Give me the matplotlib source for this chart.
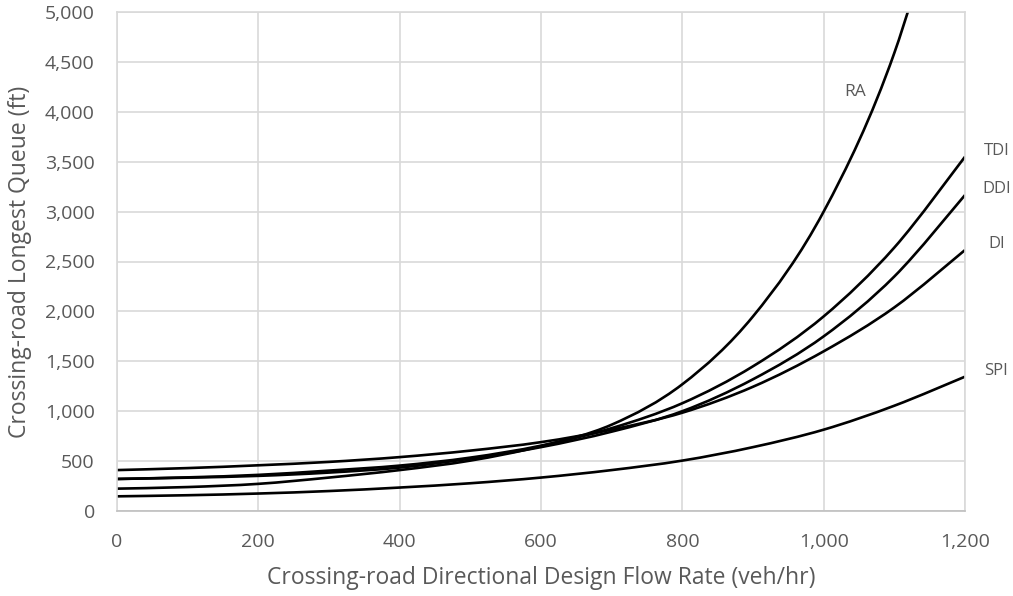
import numpy as np
import matplotlib
matplotlib.use("Agg")
import matplotlib.pyplot as plt
from matplotlib.path import Path
from matplotlib.patches import PathPatch
from matplotlib.ticker import FuncFormatter

# ---- data ----
flow = [0, 100, 200, 300, 400, 500, 600, 700, 800, 900, 1000, 1100, 1200]
ra  = [224, 240, 272, 335, 410, 505, 650, 865, 1270, 1950, 3000, 4590, 7000]
tdi = [321, 337, 362, 405, 455, 535, 655, 830, 1080, 1450, 1950, 2640, 3550]
ddi = [321, 334, 352, 385, 435, 525, 640, 795, 1000, 1320, 1750, 2350, 3166]
di  = [410, 430, 458, 492, 540, 605, 690, 815, 985, 1245, 1600, 2040, 2615]
spi = [147, 158, 175, 200, 235, 278, 335, 410, 505, 640, 815, 1055, 1346]

series_names = ["RA", "TDI", "DDI", "DI", "SPI"]
series_vals = [ra, tdi, ddi, di, spi]

x_ticks = [0, 200, 400, 600, 800, 1000, 1200]
y_ticks = [0, 500, 1000, 1500, 2000, 2500, 3000, 3500, 4000, 4500, 5000]

TXT = "#595959"
FONT = ["Open Sans", "DejaVu Sans"]
plt.rcParams["font.family"] = FONT


def smooth_path(x, y):
    """Excel-like smoothed line (Catmull-Rom as cubic Bezier) in data space."""
    pts = np.column_stack([x, y]).astype(float)
    n = len(pts)
    verts = [pts[0]]
    codes = [Path.MOVETO]
    for i in range(n - 1):
        p0 = pts[i - 1] if i > 0 else pts[i]
        p1 = pts[i]
        p2 = pts[i + 1]
        p3 = pts[i + 2] if i + 2 < n else pts[i + 1]
        c1 = p1 + (p2 - p0) / 6.0
        c2 = p2 - (p3 - p1) / 6.0
        verts += [c1, c2, p2]
        codes += [Path.CURVE4] * 3
    return Path(verts, codes)


fig = plt.figure(figsize=(10.13, 5.96), dpi=100)
ax = fig.add_axes([117 / 1013, 85 / 596, (965 - 117) / 1013, (511 - 12) / 596])

for name, vals in zip(series_names, series_vals):
    patch = PathPatch(smooth_path(flow, vals), facecolor="none",
                      edgecolor="black", lw=1.9, capstyle="butt")
    ax.add_patch(patch)
    if name != "RA":
        ax.annotate(name, xy=(flow[-1], vals[-1]), xytext=(22.5, 4),
                    textcoords="offset points", ha="center", va="center",
                    color=TXT, fontsize=12, annotation_clip=False)

ax.text(1044, 4200, "RA", color=TXT, fontsize=12.5, ha="center", va="center")

ax.set_xlim(0, 1200)
ax.set_ylim(0, 5000)
ax.set_xticks(x_ticks)
ax.set_yticks(y_ticks)
fmt = FuncFormatter(lambda v, p: f"{int(v):,}")
ax.xaxis.set_major_formatter(fmt)
ax.yaxis.set_major_formatter(fmt)
ax.tick_params(length=0, labelsize=14, labelcolor=TXT, pad=16)

ax.grid(True, color="#d9d9d9", lw=1.2)
ax.set_axisbelow(True)
for s in ax.spines.values():
    s.set_color("#d9d9d9")
    s.set_linewidth(1.2)
ax.spines["bottom"].set_color("#bfbfbf")

ax.set_xlabel("Crossing-road Directional Design Flow Rate (veh/hr)",
              fontsize=16.5, color=TXT, labelpad=11)
ax.set_ylabel("Crossing-road Longest Queue (ft)", fontsize=16.5, color=TXT,
              labelpad=9)

fig.savefig("out.png", dpi=100)
